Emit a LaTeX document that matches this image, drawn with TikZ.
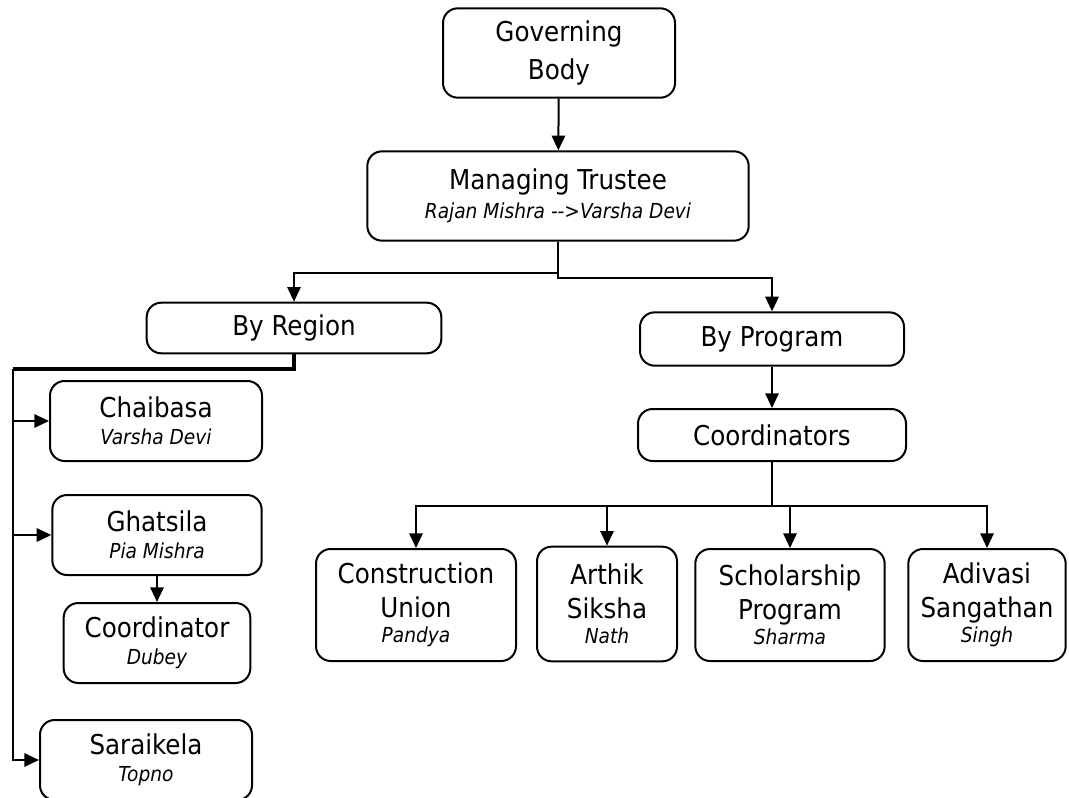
\documentclass[tikz,border=0pt]{standalone}
\usepackage{fontspec}
\setmainfont{DejaVu Sans Condensed}
\usetikzlibrary{arrows.meta,positioning}
\newcommand{\nm}[1]{{\fontsize{15.5}{19}\selectfont\itshape #1}}

\begin{document}
\begin{tikzpicture}[x=0.75pt,y=-0.75pt,line width=1.5pt,
  box/.style={draw,rounded corners=11pt,line width=1.5pt,align=center,inner sep=0pt,font=\fontsize{20.5}{25}\selectfont},
  arr/.style={-{Triangle[length=11pt,width=10pt]}}]
\useasboundingbox (0,0) rectangle (1069,798);
% top of the chart
\node[box,minimum width=174pt,minimum height=67pt] (gov) at (559,53) {Governing\\[3pt]Body};
\node[box,minimum width=286pt,minimum height=67pt] (trustee) at (558,196) {Managing Trustee\\[-3pt]\nm{Rajan Mishra -{}-{}>Varsha Devi}};
\node[box,minimum width=221pt,minimum height=38pt] (region) at (294,328) {By Region};
\node[box,minimum width=198pt,minimum height=40pt] (program) at (772,339) {By Program};
\node[box,minimum width=201pt,minimum height=39pt] (coords) at (772,435) {Coordinators};
% regions
\node[box,minimum width=159pt,minimum height=60pt] (chaibasa) at (156,421) {Chaibasa\\[-5pt]\nm{Varsha Devi}};
\node[box,minimum width=157pt,minimum height=60pt] (ghatsila) at (157,535) {Ghatsila\\[-5pt]\nm{Pia Mishra}};
\node[box,minimum width=140pt,minimum height=60pt] (coordr) at (157,643) {Coordinator\\[-5pt]\nm{Dubey}};
\node[box,minimum width=159pt,minimum height=60pt] (saraikela) at (146,760) {Saraikela\\[-5pt]\nm{Topno}};
% programs
\node[box,minimum width=150pt,minimum height=84pt] (constr) at (416,605) {Construction\\Union\\[-6pt]\nm{Pandya}};
\node[box,minimum width=105pt,minimum height=86pt] (arthik) at (607,604) {Arthik\\Siksha\\[-6pt]\nm{Nath}};
\node[box,minimum width=142pt,minimum height=84pt] (scholar) at (790,605) {Scholarship\\Program\\[-6pt]\nm{Sharma}};
\node[box,minimum width=118pt,minimum height=84pt] (adivasi) at (987,605) {Adivasi\\Sangathan\\[-6pt]\nm{Singh}};
% connectors
\draw[arr] (gov) -- (trustee);
\draw[arr] (trustee.south) -- ++(0,31) -| (region.north);
\draw[arr] (trustee.south) -- ++(0,36) -| (program.north);
\draw[arr] (program) -- (coords);
\coordinate (busL) at (13,369);
\draw[line width=2.3pt] (region.south) |- (busL);
\draw[arr] (busL) |- (saraikela.west);
\foreach \n in {chaibasa,ghatsila}{\draw[arr] (busL |- \n.west) -- (\n.west);}
\draw[arr] (ghatsila) -- (coordr);
\draw (coords.south) -- ++(0,44) coordinate (busB);
\foreach \n in {constr,arthik,scholar,adivasi}{\draw[arr] (busB) -| (\n.north);}
\end{tikzpicture}
\end{document}
